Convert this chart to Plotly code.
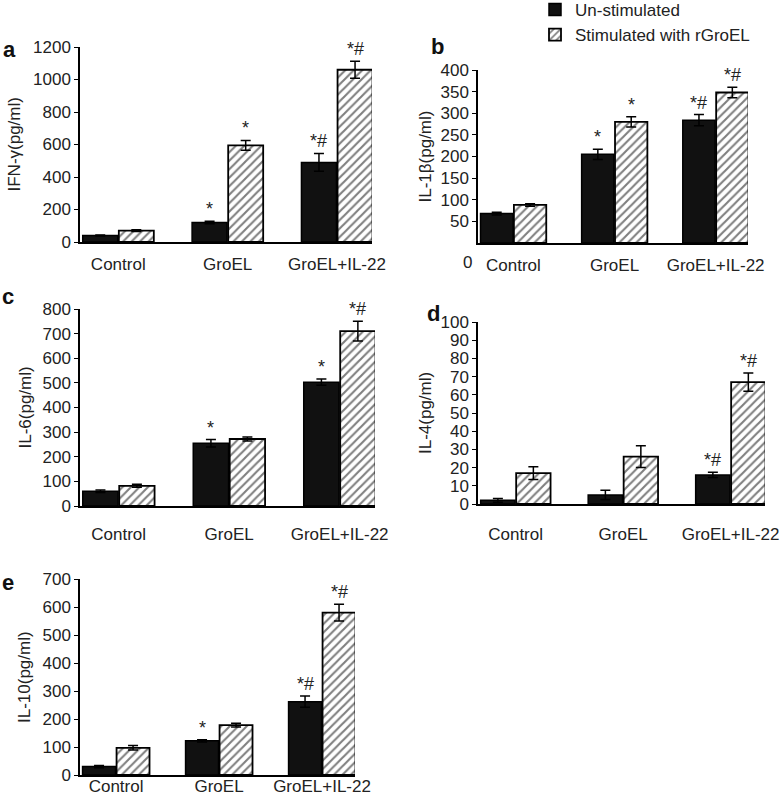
import plotly.graph_objects as go

categories = ["Control", "GroEL", "GroEL+IL-22"]
series_names = ["Un-stimulated", "Stimulated with rGroEL"]

ifn_un = [40, 120, 490]
ifn_un_err = [3, 8, 55]
ifn_st = [70, 595, 1060]
ifn_st_err = [5, 30, 52]

il1b_un = [68, 205, 284]
il1b_un_err = [3, 12, 13]
il1b_st = [88, 280, 348]
il1b_st_err = [3, 12, 12]

il6_un = [60, 255, 503]
il6_un_err = [5, 15, 13]
il6_st = [82, 272, 710]
il6_st_err = [6, 8, 40]

il4_un = [2, 5, 16]
il4_un_err = [1, 2.5, 1.5]
il4_st = [17, 26, 67]
il4_st_err = [3.5, 6, 5]

il10_un = [30, 122, 262]
il10_un_err = [4, 4, 20]
il10_st = [97, 178, 580]
il10_st_err = [8, 7, 30]

sig_a_un = ["", "*", "*#"]
sig_a_st = ["", "*", "*#"]
sig_b_un = ["", "*", "*#"]
sig_b_st = ["", "*", "*#"]
sig_c_un = ["", "*", "*"]
sig_c_st = ["", "", "*#"]
sig_d_un = ["", "", "*#"]
sig_d_st = ["", "", "*#"]
sig_e_un = ["", "*", "*#"]
sig_e_st = ["", "", "*#"]

FONT = "Liberation Sans, Arial, sans-serif"
W, H = 784, 800

panels = [
    dict(letter="a", title="IFN-γ(pg/ml)", un=ifn_un, une=ifn_un_err, st=ifn_st, ste=ifn_st_err,
         su=sig_a_un, ss=sig_a_st, px=(80, 372), py=(47, 242), rng=[0, 1200],
         tvals=list(range(0, 1201, 200)), title_x=14, letter_xy=(9, 49), standoff=6),
    dict(letter="b", title="IL-1β(pg/ml)", un=il1b_un, une=il1b_un_err, st=il1b_st, ste=il1b_st_err,
         su=sig_b_un, ss=sig_b_st, px=(478, 748), py=(70, 243), rng=[0, 400],
         tvals=list(range(50, 401, 50)), title_x=425, letter_xy=(437, 46), standoff=6),
    dict(letter="c", title="IL-6(pg/ml)", un=il6_un, une=il6_un_err, st=il6_st, ste=il6_st_err,
         su=sig_c_un, ss=sig_c_st, px=(80, 375), py=(309, 506), rng=[0, 800],
         tvals=list(range(0, 801, 100)), title_x=25, letter_xy=(8, 296), standoff=12),
    dict(letter="d", title="IL-4(pg/ml)", un=il4_un, une=il4_un_err, st=il4_st, ste=il4_st_err,
         su=sig_d_un, ss=sig_d_st, px=(478, 765), py=(322, 504), rng=[0, 100],
         tvals=list(range(0, 101, 10)), title_x=425, letter_xy=(433, 313), standoff=14),
    dict(letter="e", title="IL-10(pg/ml)", un=il10_un, une=il10_un_err, st=il10_st, ste=il10_st_err,
         su=sig_e_un, ss=sig_e_st, px=(80, 355), py=(579, 775), rng=[0, 700],
         tvals=list(range(0, 701, 100)), title_x=24, letter_xy=(8, 582), standoff=-5),
]

BW = 0.32
fig = go.Figure()
annotations = []
layout_axes = {}
x_pos = [0, 1, 2]

for i, p in enumerate(panels):
    n = "" if i == 0 else str(i + 1)
    xa, ya = "x" + n, "y" + n
    fig.add_trace(go.Bar(
        x=x_pos, y=p["un"], xaxis=xa, yaxis=ya, width=BW, offset=-BW - 0.005,
        name=series_names[0], showlegend=(i == 0), legendgroup="un",
        marker=dict(color="#111111", line=dict(color="black", width=1.5)),
        error_y=dict(type="data", array=p["une"], color="black", thickness=1.5, width=5),
    ))
    fig.add_trace(go.Bar(
        x=x_pos, y=p["st"], xaxis=xa, yaxis=ya, width=BW, offset=0.005,
        name=series_names[1], showlegend=(i == 0), legendgroup="st",
        marker=dict(color="white", line=dict(color="black", width=1.8),
                    pattern=dict(shape="/", fgcolor="black", bgcolor="white", size=6, solidity=0.35)),
        error_y=dict(type="data", array=p["ste"], color="black", thickness=1.5, width=5),
    ))
    for j in range(3):
        for dx, vals, errs, sig in [(-BW / 2 - 0.005, p["un"], p["une"], p["su"]),
                                   (BW / 2 + 0.005, p["st"], p["ste"], p["ss"])]:
            if sig[j]:
                annotations.append(dict(x=j + dx, y=vals[j] + errs[j], xref=xa, yref=ya,
                                        text=sig[j], showarrow=False, xanchor="center",
                                        yanchor="bottom",
                                        font=dict(size=18, color="#222", family=FONT)))
    x0, x1 = p["px"]
    y0, y1 = p["py"]
    layout_axes["xaxis" + n] = dict(
        domain=[x0 / W, x1 / W], anchor=ya, range=[-0.35, 2.32],
        tickvals=x_pos, ticktext=categories, showline=True, linecolor="black", linewidth=2,
        ticks="", showgrid=False, zeroline=False, ticklabelstandoff=p["standoff"],
        tickfont=dict(size=17, color="#222", family=FONT), fixedrange=True,
    )
    layout_axes["yaxis" + n] = dict(
        domain=[1 - y1 / H, 1 - y0 / H], anchor=xa, range=p["rng"], tickvals=p["tvals"],
        showline=True, linecolor="black", linewidth=1.5, ticks="outside", ticklen=4,
        tickcolor="black", showgrid=False, zeroline=False,
        tickfont=dict(size=17, color="#222", family=FONT), fixedrange=True,
    )
    annotations.append(dict(x=p["title_x"] / W, y=1 - (y0 + y1) / 2 / H, xref="paper", yref="paper",
                            text=p["title"], textangle=-90, showarrow=False,
                            xanchor="center", yanchor="middle",
                            font=dict(size=17, color="#222", family=FONT)))
    lx, ly = p["letter_xy"]
    annotations.append(dict(x=lx / W, y=1 - ly / H, xref="paper", yref="paper",
                            text="<b>" + p["letter"] + "</b>", showarrow=False,
                            xanchor="center", yanchor="middle",
                            font=dict(size=22, color="#111", family=FONT)))

annotations.append(dict(x=467 / W, y=1 - 262 / H, xref="paper", yref="paper", text="0",
                        showarrow=False, xanchor="center", yanchor="middle",
                        font=dict(size=17, color="#222", family=FONT)))

fig.update_layout(
    width=W, height=H, margin=dict(l=0, r=0, t=0, b=0, autoexpand=False),
    paper_bgcolor="white", plot_bgcolor="white",
    barmode="overlay", annotations=annotations,
    font=dict(family=FONT, color="#222"),
    legend=dict(x=535 / W, y=1.01, xanchor="left", yanchor="top",
                font=dict(size=17, color="#222", family=FONT), tracegroupgap=0,
                bgcolor="rgba(0,0,0,0)", itemwidth=30),
    **layout_axes,
)

fig.write_html("out.html", config={"displayModeBar": False},
               post_script="document.body.style.margin='0px';")
